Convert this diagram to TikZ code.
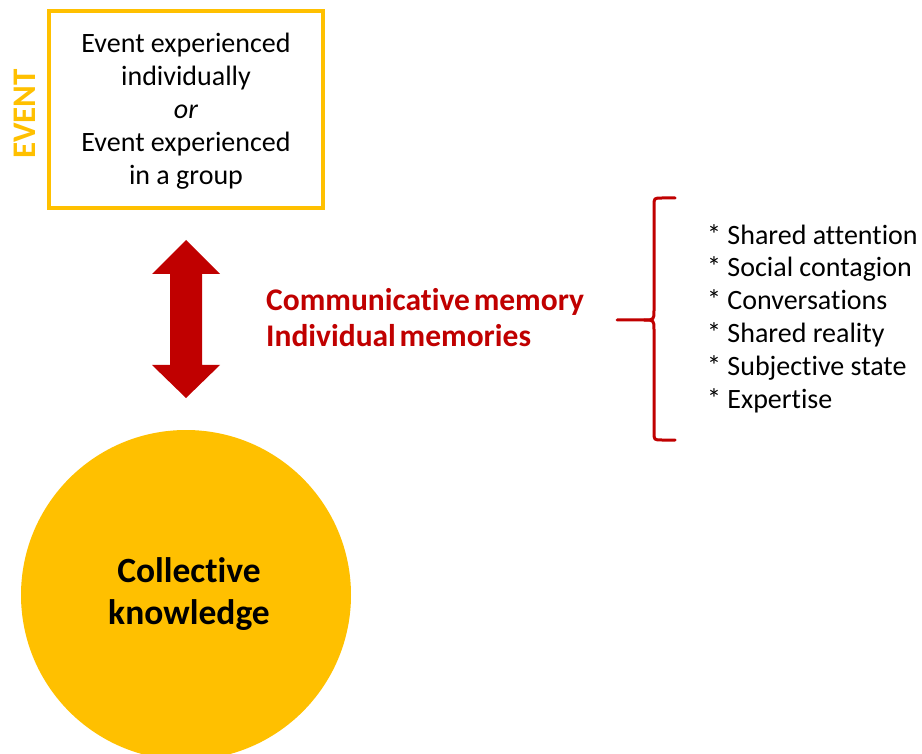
\documentclass[tikz,border=0pt]{standalone}
\usepackage{fontspec}
\setmainfont{Carlito}[Ligatures=NoCommon]
\definecolor{evyellow}{HTML}{FFC000}
\definecolor{evred}{HTML}{C00000}
\begin{document}
\begin{tikzpicture}[x=1pt,y=-1pt,
  boxtext/.style={font=\fontsize{28}{33}\selectfont, align=center, inner sep=0pt},
  listtext/.style={font=\fontsize{28}{32.8}\selectfont, align=left, anchor=north west, inner sep=0pt},
  redlabel/.style={font=\fontsize{31.5}{36}\selectfont\bfseries, text=evred, align=left, anchor=west, inner sep=0pt,
    execute at begin node={\spaceskip=0.12em\relax}},
]
\useasboundingbox (0,0) rectangle (922,754);
% event box
\node[draw=evyellow, line width=4pt, minimum width=274pt, minimum height=197pt, inner sep=0pt] (box) at (186,109.5) {};
\node[boxtext] (boxtxt) at (186,111.5) {Event experienced\\individually\\\textit{or}\\Event experienced\\in a group};
\node[rotate=90, font=\fontsize{33}{33}\selectfont\bfseries, text=evyellow, inner sep=0pt] (ev) at (25,114) {EVENT};
% double arrow
\coordinate (atop) at (186,240);
\coordinate (abot) at (186,398);
\fill[evred] (atop) -- (220,274) -- (202,274) -- (202,365) -- (220,365) -- (abot)
  -- (152,365) -- (170,365) -- (170,274) -- (152,274) -- cycle;
% red labels
\node[redlabel] (lab) at (266,318) {Communicative memory\\Individual memories};
% brace
\coordinate (btop) at (675,198);
\coordinate (bbot) at (675,440);
\coordinate (btick) at (617,320);
\draw[evred, line width=3pt, line cap=round, line join=round]
  (btop) -- (662,198) .. controls (654,198) .. (654,206) -- (654,310)
  .. controls (654,320) .. (644,320) -- (btick);
\draw[evred, line width=3pt, line cap=round, line join=round]
  (644,320) .. controls (654,320) .. (654,330) -- (654,432)
  .. controls (654,440) .. (662,440) -- (bbot);
% list
\node[listtext] (list) at (707,224) {* Shared attention\\* Social contagion\\* Conversations\\* Shared reality\\* Subjective state\\* Expertise};
% circle
\node[circle, fill=evyellow, minimum size=330pt, inner sep=0pt] (circ) at (186,595) {};
\node[font=\fontsize{35.5}{42}\selectfont\bfseries, align=center, inner sep=0pt] (ck) at (189,594) {Collective\\knowledge};
\end{tikzpicture}
\end{document}
